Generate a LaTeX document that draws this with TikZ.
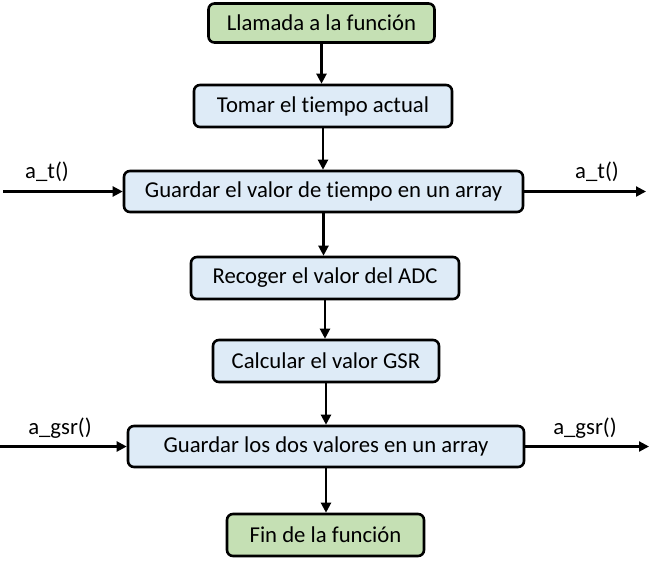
\documentclass[tikz,border=0pt]{standalone}
\usepackage{fontspec}
\setmainfont[Ligatures={NoCommon}]{Carlito}
\usepackage{tikz}
\usetikzlibrary{arrows.meta}
\usepackage{xcolor}
\definecolor{step-green}{RGB}{197,224,180}
\definecolor{step-blue}{RGB}{222,235,247}
\tikzstyle{stepbox}=[draw, line width=2.6pt, rounded corners=6pt, inner sep=0pt, align=center]
\tikzstyle{startend}=[stepbox, fill=step-green]
\tikzstyle{process}=[stepbox, fill=step-blue]
\tikzstyle{flow}=[line width=2.2pt, -{Triangle[length=10pt,width=10pt]}]
\newcommand{\stepNbox}[6]{
	\node[#1, minimum width=#4pt, minimum height=#5pt] (#2) at #3 {#6};
}

\begin{document}
\begin{tikzpicture}[x=1pt, y=-1pt, font=\fontsize{22.7}{27}\selectfont]
	\useasboundingbox (0,0) rectangle (662,563);
	\stepNbox{startend}{llamada}{(321.5,23)}{226}{39}{Llamada a la función};
	\stepNbox{process}{tomar}{(323,106)}{258}{42}{Tomar el tiempo actual};
	\stepNbox{process}{guardart}{(323.5,191.5)}{399}{41}{Guardar el valor de tiempo en un array};
	\stepNbox{process}{recoger}{(325,278)}{268}{42}{Recoger el valor del ADC};
	\stepNbox{process}{calcular}{(326,361)}{226}{42}{Calcular el valor GSR};
	\stepNbox{process}{guardargsr}{(326,446.5)}{396}{41}{Guardar los dos valores en un array};
	\stepNbox{startend}{fin}{(325.5,535)}{197}{42}{Fin de la función};
	\coordinate (tin) at (3,191.5);
	\coordinate (tout) at (646,191.5);
	\coordinate (gin) at (0,446.5);
	\coordinate (gout) at (649,446.5);
	\draw[flow] (llamada.south) -- (llamada.south |- tomar.north);
	\draw[flow] (tomar.south) -- (tomar.south |- guardart.north);
	\draw[flow] (guardart.south) -- (guardart.south |- recoger.north);
	\draw[flow] (recoger.south) -- (recoger.south |- calcular.north);
	\draw[flow] (calcular.south) -- (calcular.south |- guardargsr.north);
	\draw[flow] (guardargsr.south) -- (guardargsr.south |- fin.north);
	\draw[flow] (tin) -- (guardart.west);
	\draw[flow] (guardart.east) -- (tout);
	\draw[flow] (gin) -- (guardargsr.west);
	\draw[flow] (guardargsr.east) -- (gout);
	\node (tinlbl) at (47,172) {a\_t()};
	\node (toutlbl) at (597,172) {a\_t()};
	\node (ginlbl) at (60,428) {a\_gsr()};
	\node (goutlbl) at (585,428) {a\_gsr()};
\end{tikzpicture}
\end{document}
